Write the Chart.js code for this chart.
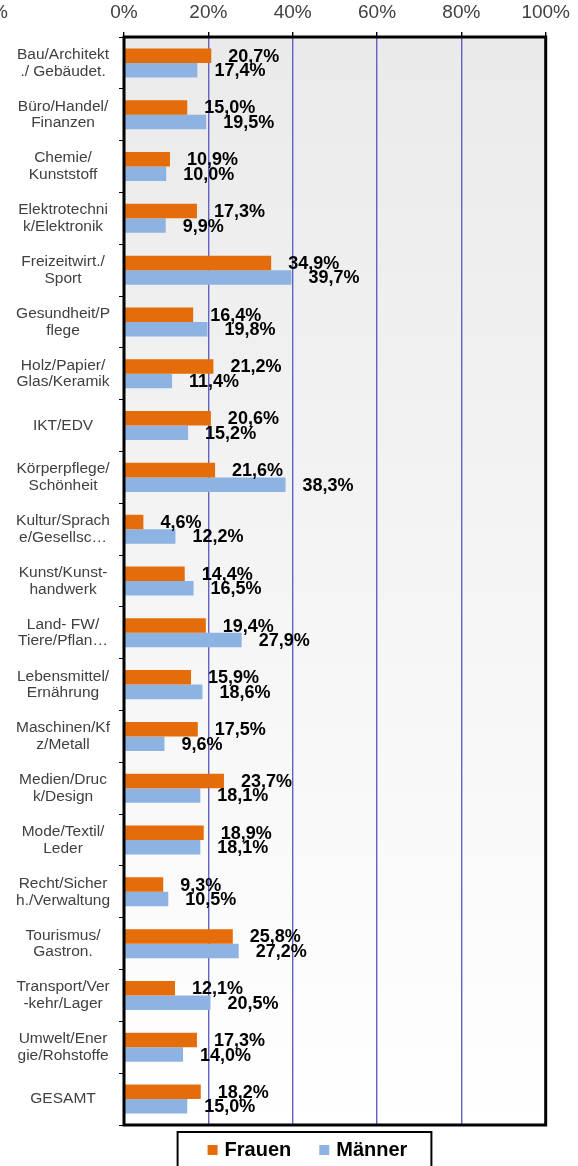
<!DOCTYPE html>
<html>
<head>
<meta charset="utf-8">
<script src="https://cdn.jsdelivr.net/npm/chart.js@4/dist/chart.umd.min.js"></script>
<style>
  html, body { margin: 0; padding: 0; background: #fff; }
  #wrap { width: 578px; height: 1166px; }
</style>
</head>
<body>
<div id="wrap"><canvas id="chart" width="578" height="1166"></canvas></div>
<script>
const categories = [
    ["Bau/Architekt", "./ Gebäudet."], ["Büro/Handel/", "Finanzen"], ["Chemie/", "Kunststoff"],
    ["Elektrotechni", "k/Elektronik"], ["Freizeitwirt./", "Sport"], ["Gesundheit/P", "flege"],
    ["Holz/Papier/", "Glas/Keramik"], "IKT/EDV", ["Körperpflege/", "Schönheit"],
    ["Kultur/Sprach", "e/Gesellsc…"], ["Kunst/Kunst-", "handwerk"], ["Land- FW/", "Tiere/Pflan…"],
    ["Lebensmittel/", "Ernährung"], ["Maschinen/Kf", "z/Metall"], ["Medien/Druc", "k/Design"],
    ["Mode/Textil/", "Leder"], ["Recht/Sicher", "h./Verwaltung"], ["Tourismus/", "Gastron."],
    ["Transport/Ver", "-kehr/Lager"], ["Umwelt/Ener", "gie/Rohstoffe"], "GESAMT"
];
const frauen = [20.7, 15.0, 10.9, 17.3, 34.9, 16.4, 21.2, 20.6, 21.6, 4.6, 14.4,
                19.4, 15.9, 17.5, 23.7, 18.9, 9.3, 25.8, 12.1, 17.3, 18.2];
const maenner = [17.4, 19.5, 10.0, 9.9, 39.7, 19.8, 11.4, 15.2, 38.3, 12.2, 16.5,
                 27.9, 18.6, 9.6, 18.1, 18.1, 10.5, 27.2, 20.5, 14.0, 15.0];
const xTicks = [0, 20, 40, 60, 80, 100];

const FONT = '"Liberation Sans", Arial, sans-serif';

// grey gradient behind the plot
const plotBg = {
    id: 'plotBg',
    beforeDraw(chart) {
        const {ctx, chartArea: a} = chart;
        const g = ctx.createLinearGradient(0, a.top, 0, a.bottom);
        g.addColorStop(0, '#eaeaea');
        g.addColorStop(1, '#ffffff');
        ctx.save();
        ctx.fillStyle = g;
        ctx.fillRect(a.left, a.top, a.right - a.left, a.bottom - a.top);
        ctx.restore();
    }
};

// value labels, frame, legend box
const extras = {
    id: 'extras',
    afterDatasetsDraw(chart) {
        const {ctx, chartArea: a} = chart;
        ctx.save();
        ctx.font = 'bold 18px ' + FONT;
        ctx.fillStyle = '#000';
        ctx.textAlign = 'left';
        ctx.textBaseline = 'middle';
        chart.data.datasets.forEach((ds, i) => {
            chart.getDatasetMeta(i).data.forEach((bar, j) => {
                const txt = ds.data[j].toFixed(1).replace('.', ',') + '%';
                ctx.fillText(txt, bar.x + 17, bar.y + 1);
            });
        });
        ctx.strokeStyle = '#000';
        ctx.lineWidth = 3;
        ctx.strokeRect(a.left, a.top, a.right - a.left, a.bottom - a.top);
        ctx.restore();
    },
    afterDraw(chart) {
        const {ctx, chartArea: a} = chart;
        ctx.save();
        // clipped remnant at top-left
        ctx.font = '19px ' + FONT;
        ctx.fillStyle = '#404040';
        ctx.textAlign = 'right';
        ctx.textBaseline = 'middle';
        ctx.fillText('100%', 8, 13);

        ctx.font = 'bold 20px ' + FONT;
        const items = chart.data.datasets.map(ds => ({
            text: ds.label, color: ds.backgroundColor, w: ctx.measureText(ds.label).width
        }));
        let total = 0;
        items.forEach((it, i) => { total += 17 + it.w + (i > 0 ? 28 : 0); });
        let x = 307.5 - total / 2;
        const top = a.bottom + 7;
        ctx.fillStyle = '#fff';
        ctx.fillRect(x - 30, top, total + 54, 60);
        ctx.strokeStyle = '#000';
        ctx.lineWidth = 2;
        ctx.strokeRect(x - 30, top, total + 54, 60);
        const cy = top + 18;
        ctx.textAlign = 'left';
        items.forEach(it => {
            ctx.fillStyle = it.color;
            ctx.fillRect(x, cy - 5, 10, 10);
            ctx.fillStyle = '#000';
            ctx.fillText(it.text, x + 17, cy);
            x += 17 + it.w + 28;
        });
        ctx.restore();
    }
};

new Chart(document.getElementById('chart'), {
    type: 'bar',
    data: {
        labels: categories,
        datasets: [{
            label: 'Frauen',
            data: frauen,
            backgroundColor: '#E46C0A'
        }, {
            label: 'Männer',
            data: maenner,
            backgroundColor: '#8DB3E2'
        }]
    },
    options: {
        indexAxis: 'y',
        responsive: false,
        animation: false,
        layout: { padding: { left: 0, right: 29, top: 0, bottom: 41 } },
        datasets: { bar: { categoryPercentage: 0.56, barPercentage: 1.0 } },
        plugins: {
            legend: { display: false },
            tooltip: { enabled: false }
        },
        scales: {
            x: {
                position: 'top',
                min: 0,
                max: 100,
                afterBuildTicks: s => { s.ticks = xTicks.map(v => ({value: v})); },
                afterFit: s => { s.height = 37; },
                border: { display: false },
                grid: { color: '#6262c2', lineWidth: 1.4, tickLength: 5, tickColor: '#000' },
                ticks: {
                    padding: 8,
                    color: '#404040',
                    font: { family: FONT, size: 19 },
                    callback: v => v + '%'
                }
            },
            y: {
                afterFit: s => { s.width = 124; },
                border: { display: false },
                grid: { drawOnChartArea: false, tickLength: 5, color: '#000' },
                ticks: {
                    crossAlign: 'center',
                    padding: 9,
                    color: '#404040',
                    font: { family: FONT, size: 15.5, lineHeight: 1.08 }
                }
            }
        }
    },
    plugins: [plotBg, extras]
});
</script>
</body>
</html>
